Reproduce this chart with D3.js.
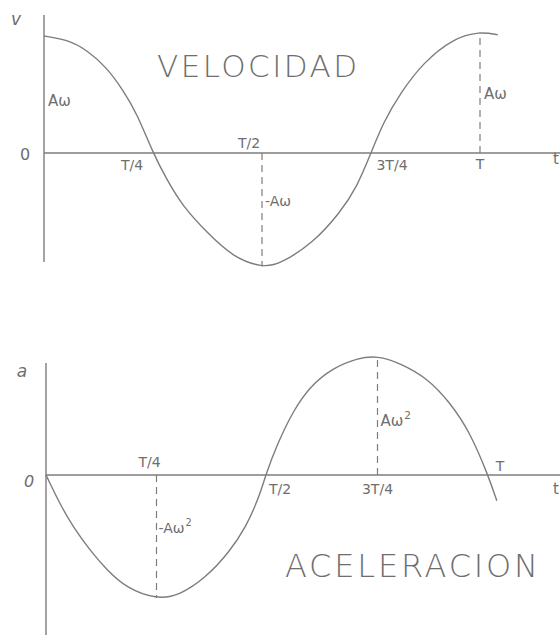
<!DOCTYPE html>
<html>
<head>
<meta charset="utf-8">
<script src="https://cdn.jsdelivr.net/npm/d3@7"></script>
<style>
  html, body { margin: 0; padding: 0; background: #fff; }
  svg { display: block; }
  text { font-family: "DejaVu Sans", sans-serif; fill: #6e6e6e; }
</style>
</head>
<body>
<svg id="chart" width="560" height="635"></svg>
<script>
// Velocity curve v(t), time in periods (t/T), value in units of Aω
const velTimes  = [0, 0.053, 0.099, 0.144, 0.181, 0.213, 0.25, 0.282, 0.319, 0.374, 0.433, 0.502,
                   0.541, 0.617, 0.679, 0.718, 0.75, 0.778, 0.817, 0.869, 0.938, 1.0, 1.041];
const velValues = [1.0, 0.97, 0.88, 0.73, 0.54, 0.34, 0, -0.23, -0.46, -0.68, -0.89, -0.98,
                   -0.95, -0.77, -0.51, -0.29, 0, 0.26, 0.51, 0.77, 0.98, 1.04, 1.01];

// Acceleration curve a(t), time in periods, value in units of Aω²
const accTimes  = [0, 0.032, 0.061, 0.099, 0.137, 0.182, 0.25, 0.302, 0.363, 0.414, 0.453, 0.482, 0.497,
                   0.523, 0.559, 0.597, 0.649, 0.704, 0.75, 0.801, 0.862, 0.914, 0.959, 1.0, 1.02];
const accValues = [0, -0.24, -0.42, -0.61, -0.77, -0.92, -1.01, -0.98, -0.83, -0.63, -0.42, -0.18, 0,
                   0.25, 0.52, 0.72, 0.87, 0.95, 0.97, 0.91, 0.79, 0.59, 0.35, 0, -0.21];

// Time labels along each axis
const velTickLabels = ["T/4", "T/2", "3T/4", "T"];
const accTickLabels = ["T/4", "T/2", "3T/4", "T"];

// Dashed guides: [time, value]
const velGuides = [[0.5, -0.97], [1.0, 1.03]];
const accGuides = [[0.25, -1.0], [0.75, 0.96]];

const svg = d3.select("#chart");
const lineColor = "#7d7d7d";

// smooth curve through the sampled points
function curvePath(x, y) {
  return d3.line().x(d => x(d[0])).y(d => y(d[1])).curve(d3.curveBasis);
}

// ---------- VELOCIDAD ----------
const xV = d3.scaleLinear().domain([0, 1]).range([44, 480]);
const yV = d3.scaleLinear().domain([-1, 1]).range([270, 36]);

const gV = svg.append("g");
gV.append("line").attr("x1", xV(0)).attr("x2", xV(0)).attr("y1", 15).attr("y2", 262)
  .attr("stroke", lineColor).attr("stroke-width", 1.4);
gV.append("line").attr("x1", xV(0)).attr("x2", 560).attr("y1", yV(0)).attr("y2", yV(0))
  .attr("stroke", lineColor).attr("stroke-width", 1.4);

gV.selectAll("line.guide").data(velGuides).join("line").attr("class", "guide")
  .attr("x1", d => xV(d[0])).attr("x2", d => xV(d[0]))
  .attr("y1", yV(0)).attr("y2", d => yV(d[1]))
  .attr("stroke", lineColor).attr("stroke-width", 1.2).attr("stroke-dasharray", "7,5");

gV.append("path").datum(d3.zip(velTimes, velValues)).attr("d", curvePath(xV, yV))
  .attr("fill", "none").attr("stroke", lineColor).attr("stroke-width", 1.4);

gV.append("text").attr("x", 16).attr("y", 25).attr("font-size", 17).attr("text-anchor", "middle")
  .attr("font-style", "italic").text("v");
gV.append("text").attr("x", 25).attr("y", yV(0) + 7).attr("font-size", 16).attr("text-anchor", "middle").text("0");
gV.append("text").attr("x", 559).attr("y", yV(0) + 11).attr("font-size", 15).attr("text-anchor", "end").text("t");
gV.append("text").attr("x", xV(0) + 4).attr("y", 106).attr("font-size", 15).text("Aω");
gV.append("text").attr("x", xV(1) + 4).attr("y", 99).attr("font-size", 15).text("Aω");
gV.append("text").attr("x", xV(0.5) + 3).attr("y", 206).attr("font-size", 14).text("-Aω");

const velTickPos = [
  { t: 0.25, dx: -21, dy: 17 },
  { t: 0.5,  dx: -13, dy: -5 },
  { t: 0.75, dx: 21,  dy: 17 },
  { t: 1.0,  dx: 0,   dy: 16 }
];
gV.selectAll("text.tick").data(velTickLabels).join("text").attr("class", "tick")
  .attr("x", (d, i) => xV(velTickPos[i].t) + velTickPos[i].dx)
  .attr("y", (d, i) => yV(0) + velTickPos[i].dy)
  .attr("text-anchor", "middle").attr("font-size", 14).text(d => d);

gV.append("text").attr("x", 157).attr("y", 77).attr("font-size", 31).attr("font-weight", 200)
  .attr("textLength", 200).attr("lengthAdjust", "spacing").text("VELOCIDAD");

// ---------- ACELERACION ----------
const xA = d3.scaleLinear().domain([0, 1]).range([46, 488]);
const yA = d3.scaleLinear().domain([-1, 1]).range([598, 352]);

const gA = svg.append("g");
gA.append("line").attr("x1", xA(0)).attr("x2", xA(0)).attr("y1", 363).attr("y2", 635)
  .attr("stroke", lineColor).attr("stroke-width", 1.4);
gA.append("line").attr("x1", xA(0)).attr("x2", 560).attr("y1", yA(0)).attr("y2", yA(0))
  .attr("stroke", lineColor).attr("stroke-width", 1.4);

gA.selectAll("line.guide").data(accGuides).join("line").attr("class", "guide")
  .attr("x1", d => xA(d[0])).attr("x2", d => xA(d[0]))
  .attr("y1", yA(0)).attr("y2", d => yA(d[1]))
  .attr("stroke", lineColor).attr("stroke-width", 1.2).attr("stroke-dasharray", "7,5");

gA.append("path").datum(d3.zip(accTimes, accValues)).attr("d", curvePath(xA, yA))
  .attr("fill", "none").attr("stroke", lineColor).attr("stroke-width", 1.4);

gA.append("text").attr("x", 22).attr("y", 377).attr("font-size", 17).attr("text-anchor", "middle")
  .attr("font-style", "italic").text("a");
gA.append("text").attr("x", 29).attr("y", yA(0) + 12).attr("font-size", 16).attr("text-anchor", "middle")
  .attr("font-style", "italic").text("0");
gA.append("text").attr("x", 559).attr("y", yA(0) + 19).attr("font-size", 15).attr("text-anchor", "end").text("t");

// amplitude labels with superscript
function ampLabel(g, x, y, prefix, size) {
  const t = g.append("text").attr("x", x).attr("y", y).attr("font-size", size);
  t.append("tspan").text(prefix + "Aω");
  t.append("tspan").attr("font-size", size * 0.7).attr("dy", -7).attr("dx", 1).text("2");
}
ampLabel(gA, xA(0.25) + 2, 533, "-", 14);
ampLabel(gA, xA(0.75) + 3, 426, "", 15);

const accTickPos = [
  { t: 0.25, dx: -7, dy: -8 },
  { t: 0.5,  dx: 13, dy: 19 },
  { t: 0.75, dx: 0,  dy: 19 },
  { t: 1.0,  dx: 12, dy: -4 }
];
gA.selectAll("text.tick").data(accTickLabels).join("text").attr("class", "tick")
  .attr("x", (d, i) => xA(accTickPos[i].t) + accTickPos[i].dx)
  .attr("y", (d, i) => yA(0) + accTickPos[i].dy)
  .attr("text-anchor", "middle").attr("font-size", 14).text(d => d);

gA.append("text").attr("x", 285).attr("y", 577).attr("font-size", 32).attr("font-weight", 200)
  .attr("textLength", 253).attr("lengthAdjust", "spacing").text("ACELERACION");
</script>
</body>
</html>
